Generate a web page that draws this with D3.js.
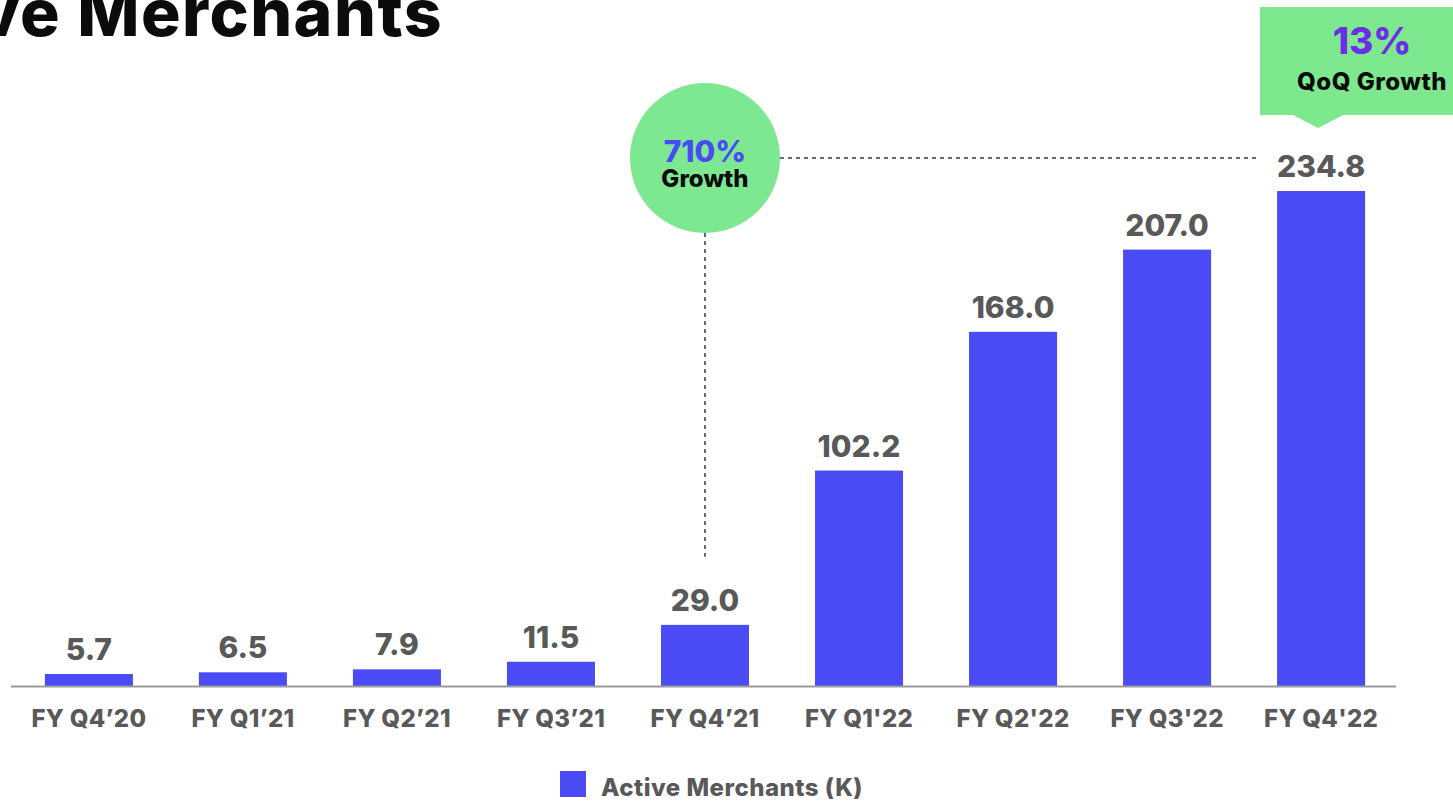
<!DOCTYPE html>
<html>
<head>
<meta charset="utf-8">
<script src="https://cdn.jsdelivr.net/npm/d3@7"></script>
<style>
  body { margin: 0; background: #fff; overflow: hidden; }
  svg { display: block; font-family: Inter, "Noto Sans", sans-serif; }
</style>
</head>
<body>
<div id="chart"></div>
<script>
// Data
const quarters = ["FY Q4\u201920", "FY Q1\u201921", "FY Q2\u201921", "FY Q3\u201921", "FY Q4\u201921",
                  "FY Q1'22", "FY Q2'22", "FY Q3'22", "FY Q4'22"];
const merchants = [5.7, 6.5, 7.9, 11.5, 29.0, 102.2, 168.0, 207.0, 234.8];
const seriesName = "Active Merchants (K)";
const titleText = "Active Merchants";
const growthPct = "710%";
const qoqPct = "13%";

const W = 1453, H = 803;
const baseY = 686;

const svg = d3.select("#chart").append("svg")
    .attr("width", W)
    .attr("height", H);

const x = d3.scaleBand()
    .domain(quarters)
    .range([11, 1399])
    .paddingInner(66 / 154)
    .paddingOuter(0.22);

const y = d3.scaleLinear()
    .domain([0, 234.8])
    .range([baseY, 191]);

// Title (cut off at the left edge, as in the slide)
svg.append("text")
    .attr("x", 443)
    .attr("y", 36)
    .attr("text-anchor", "end")
    .attr("font-size", 66)
    .attr("font-weight", 800)
    .attr("letter-spacing", 1.5)
    .attr("fill", "#0b0b0b")
    .text(titleText);

// Bars
svg.selectAll(".bar")
    .data(merchants)
    .enter()
    .append("rect")
    .attr("class", "bar")
    .attr("x", (d, i) => x(quarters[i]))
    .attr("y", d => y(d))
    .attr("width", x.bandwidth())
    .attr("height", d => baseY - y(d))
    .attr("fill", "#4b4bf5");

// Baseline
svg.append("line")
    .attr("x1", 11).attr("x2", 1396)
    .attr("y1", baseY + 0.5).attr("y2", baseY + 0.5)
    .attr("stroke", "#9a9a9a")
    .attr("stroke-width", 2);

// Value labels
svg.selectAll(".val")
    .data(merchants)
    .enter()
    .append("text")
    .attr("class", "val")
    .attr("x", (d, i) => x(quarters[i]) + x.bandwidth() / 2)
    .attr("y", d => y(d) - 14)
    .attr("text-anchor", "middle")
    .attr("font-size", 30)
    .attr("font-weight", 800)
    .attr("fill", "#595959")
    .text(d => d.toFixed(1));

// Category axis
const xAxis = svg.append("g")
    .attr("transform", `translate(0,${baseY})`)
    .call(d3.axisBottom(x).tickSize(0).tickPadding(24));
xAxis.select(".domain").remove();
xAxis.selectAll("text")
    .attr("font-family", "Inter, sans-serif")
    .attr("font-size", 24)
    .attr("font-weight", 800)
    .attr("letter-spacing", 0.3)
    .attr("fill", "#595959")
    .attr("dy", "0.72em");

// 710% growth bubble and dashed connectors
const c4 = x(quarters[4]) + x.bandwidth() / 2;
const c8 = x(quarters[8]) + x.bandwidth() / 2;
const bubbleY = 158, bubbleR = 75;

svg.append("line")
    .attr("x1", c4 + bubbleR).attr("x2", c8 - 63)
    .attr("y1", bubbleY).attr("y2", bubbleY)
    .attr("stroke", "#6b6b6b")
    .attr("stroke-width", 2)
    .attr("stroke-dasharray", "4,4");

svg.append("line")
    .attr("x1", c4).attr("x2", c4)
    .attr("y1", bubbleY + bubbleR).attr("y2", y(merchants[4]) - 68)
    .attr("stroke", "#6b6b6b")
    .attr("stroke-width", 2)
    .attr("stroke-dasharray", "4,4");

svg.append("circle")
    .attr("cx", c4).attr("cy", bubbleY)
    .attr("r", bubbleR)
    .attr("fill", "#7de891");

svg.append("text")
    .attr("x", c4).attr("y", bubbleY + 4)
    .attr("text-anchor", "middle")
    .attr("font-size", 30)
    .attr("font-weight", 800)
    .attr("fill", "#4b4bf5")
    .text(growthPct);

svg.append("text")
    .attr("x", c4).attr("y", bubbleY + 29)
    .attr("text-anchor", "middle")
    .attr("font-size", 24)
    .attr("font-weight", 800)
    .attr("fill", "#0b0b0b")
    .text("Growth");

// QoQ callout box
svg.append("path")
    .attr("d", `M1260,7 H${W} V115 H${c8 + 22} L${c8 - 3},128 L${c8 - 28},115 H1260 Z`)
    .attr("fill", "#7ee88f");

svg.append("text")
    .attr("x", 1372).attr("y", 54)
    .attr("text-anchor", "middle")
    .attr("font-size", 37)
    .attr("font-weight", 800)
    .attr("fill", "#6a2ee6")
    .text(qoqPct);

svg.append("text")
    .attr("x", 1372).attr("y", 90)
    .attr("text-anchor", "middle")
    .attr("font-size", 24)
    .attr("font-weight", 800)
    .attr("letter-spacing", 0.5)
    .attr("fill", "#0b0b0b")
    .text("QoQ Growth");

// Legend
svg.append("rect")
    .attr("x", 560).attr("y", 771)
    .attr("width", 26).attr("height", 26)
    .attr("fill", "#4b4bf5");

svg.append("text")
    .attr("x", 601).attr("y", 796)
    .attr("font-size", 24)
    .attr("font-weight", 800)
    .attr("letter-spacing", 0.5)
    .attr("fill", "#595959")
    .text(seriesName);
</script>
</body>
</html>
